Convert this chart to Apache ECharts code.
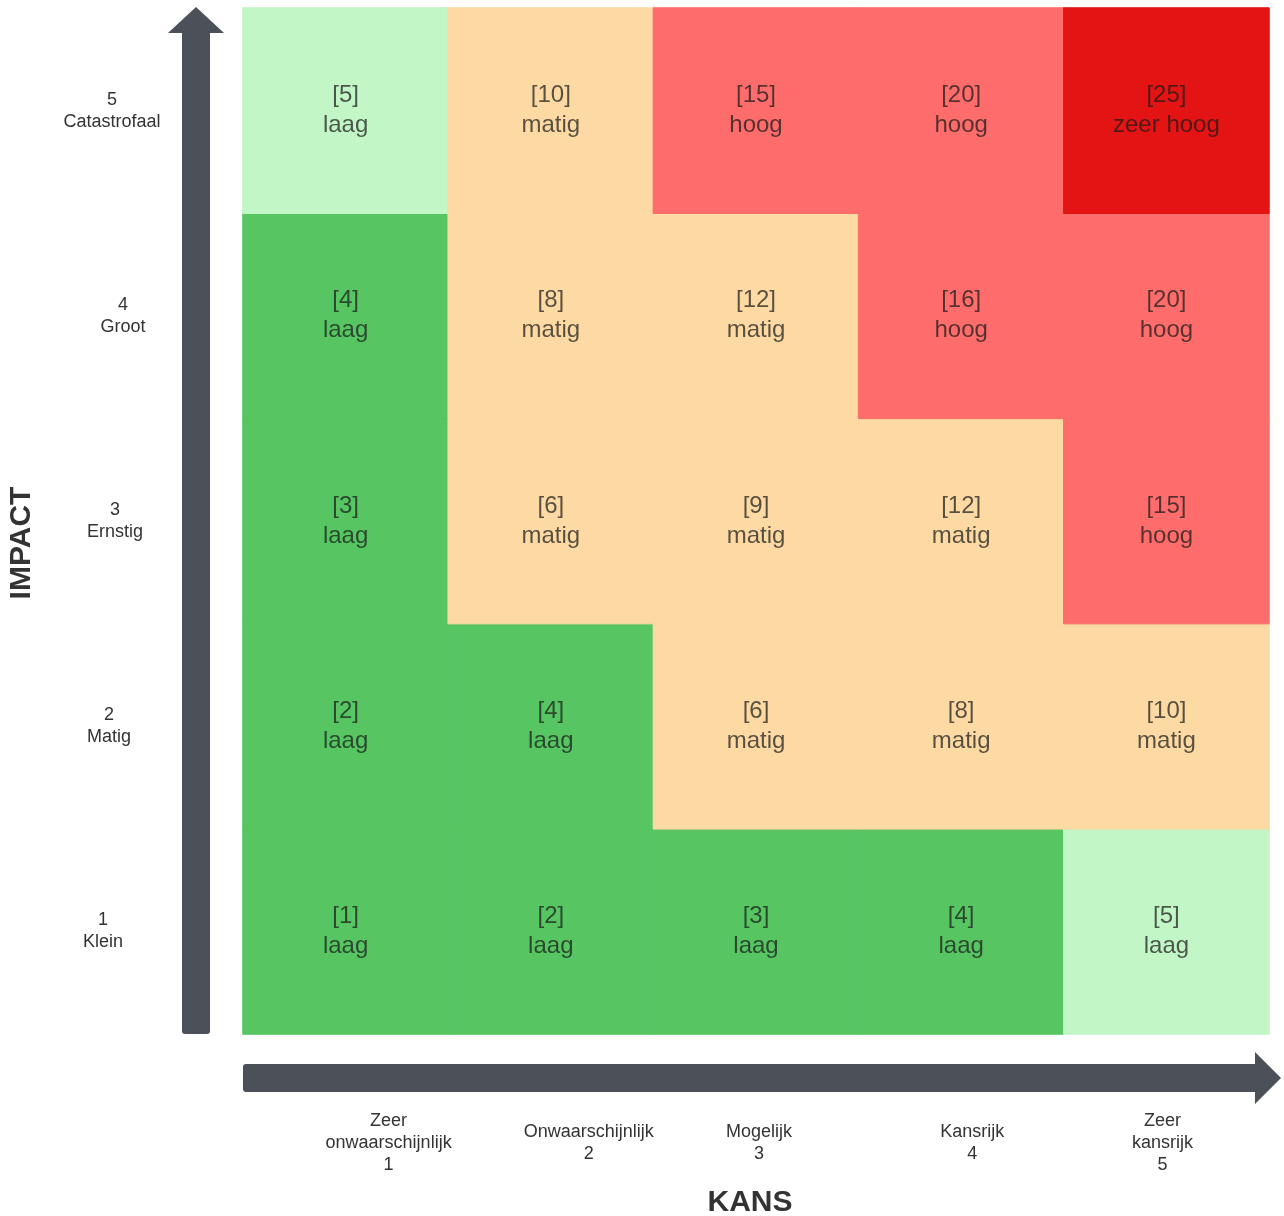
<!DOCTYPE html>
<html>
<head>
<meta charset="utf-8">
<script src="https://cdn.jsdelivr.net/npm/echarts@6/dist/echarts.min.js"></script>
<style>
html,body{margin:0;padding:0;background:#fff;}
#chart{width:1284px;height:1216px;}
</style>
</head>
<body>
<div id="chart"></div>
<script>
// Kans (x) categories, left to right
var kansLabels = ['Zeer\nonwaarschijnlijk\n1', 'Onwaarschijnlijk\n2', 'Mogelijk\n3', 'Kansrijk\n4', 'Zeer\nkansrijk\n5'];
// Impact (y) categories, bottom to top
var impactLabels = ['1\nKlein', '2\nMatig', '3\nErnstig', '4\nGroot', '5\nCatastrofaal'];

// Scores per impact row (index 0 = impact 1), columns = kans 1..5
var scores = [
  [1, 2, 3, 4, 5],
  [2, 4, 6, 8, 10],
  [3, 6, 9, 12, 15],
  [4, 8, 12, 16, 20],
  [5, 10, 15, 20, 25]
];
// Level text per cell
var levels = [
  ['laag', 'laag', 'laag', 'laag', 'laag'],
  ['laag', 'laag', 'matig', 'matig', 'matig'],
  ['laag', 'matig', 'matig', 'matig', 'hoog'],
  ['laag', 'matig', 'matig', 'hoog', 'hoog'],
  ['laag', 'matig', 'hoog', 'hoog', 'zeer hoog']
];
// Colour zone per cell
var zones = [
  ['G', 'G', 'G', 'G', 'L'],
  ['G', 'G', 'M', 'M', 'M'],
  ['G', 'M', 'M', 'M', 'H'],
  ['G', 'M', 'M', 'H', 'H'],
  ['L', 'M', 'H', 'H', 'Z']
];
var zoneColors = { L: '#c3f6c6', G: '#56c562', M: '#fdd9a3', H: '#fe6d6b', Z: '#e41414' };

// label position tweaks (style only)
var xLabelShift = [43, 38, 3, 11, -4];
var yLabelShift = [-9, -3, 3, 11, 0];

var data = [];
for (var i = 0; i < impactLabels.length; i++) {
  for (var j = 0; j < kansLabels.length; j++) {
    var c = zoneColors[zones[i][j]];
    data.push({
      value: [j, i, scores[i][j]],
      level: levels[i][j],
      itemStyle: { color: c, borderColor: c, borderWidth: 1 }
    });
  }
}

function pad(shift, top) {
  return shift >= 0 ? [top || 0, 0, 0, 2 * shift] : [top || 0, -2 * shift, 0, 0];
}

var font = '"Liberation Sans", Arial, sans-serif';
var labelBase = { align: 'center', verticalAlign: 'middle', fontSize: 18, lineHeight: 22, color: '#333333', fontFamily: font };

var chart = echarts.init(document.getElementById('chart'));
chart.setOption({
  backgroundColor: '#ffffff',
  animation: false,
  grid: { left: 243, top: 8, width: 1026, height: 1026 },
  xAxis: {
    type: 'category',
    data: kansLabels.map(function (l, k) {
      return { value: l, textStyle: Object.assign({}, labelBase, { padding: pad(xLabelShift[k]) }) };
    }),
    axisLine: { show: false }, axisTick: { show: false }, splitLine: { show: false },
    axisLabel: Object.assign({ interval: 0, margin: 109 }, labelBase)
  },
  yAxis: {
    type: 'category',
    data: impactLabels.map(function (l, k) {
      return { value: l, textStyle: Object.assign({}, labelBase, { padding: pad(yLabelShift[k], 6) }) };
    }),
    axisLine: { show: false }, axisTick: { show: false }, splitLine: { show: false },
    axisLabel: Object.assign({ interval: 0, margin: 131 }, labelBase)
  },
  series: [{
    type: 'heatmap',
    data: data,
    label: {
      show: true,
      formatter: function (p) { return '[' + p.data.value[2] + ']\n' + p.data.level; },
      fontSize: 24, lineHeight: 30, color: 'rgba(25,25,25,0.72)', fontFamily: font
    },
    emphasis: { disabled: true }
  }],
  graphic: [
    // vertical arrow
    { type: 'rect', shape: { x: 182, y: 30, width: 28, height: 1004, r: [0, 0, 3, 3] }, style: { fill: '#4b5059' } },
    { type: 'polygon', shape: { points: [[168, 33], [196, 7], [224, 33]] }, style: { fill: '#4b5059' } },
    // horizontal arrow
    { type: 'rect', shape: { x: 243, y: 1064, width: 1015, height: 28, r: [3, 0, 0, 3] }, style: { fill: '#4b5059' } },
    { type: 'polygon', shape: { points: [[1255, 1052], [1281, 1078], [1255, 1104]] }, style: { fill: '#4b5059' } },
    // titles
    { type: 'text', x: 750, y: 1203, style: { text: 'KANS', font: 'bold 30px "Liberation Sans", Arial, sans-serif', fill: '#333333', align: 'center', verticalAlign: 'middle' } },
    { type: 'text', x: 22, y: 543, rotation: Math.PI / 2, style: { text: 'IMPACT', font: 'bold 30px "Liberation Sans", Arial, sans-serif', fill: '#333333', align: 'center', verticalAlign: 'middle' } }
  ]
});
</script>
</body>
</html>
